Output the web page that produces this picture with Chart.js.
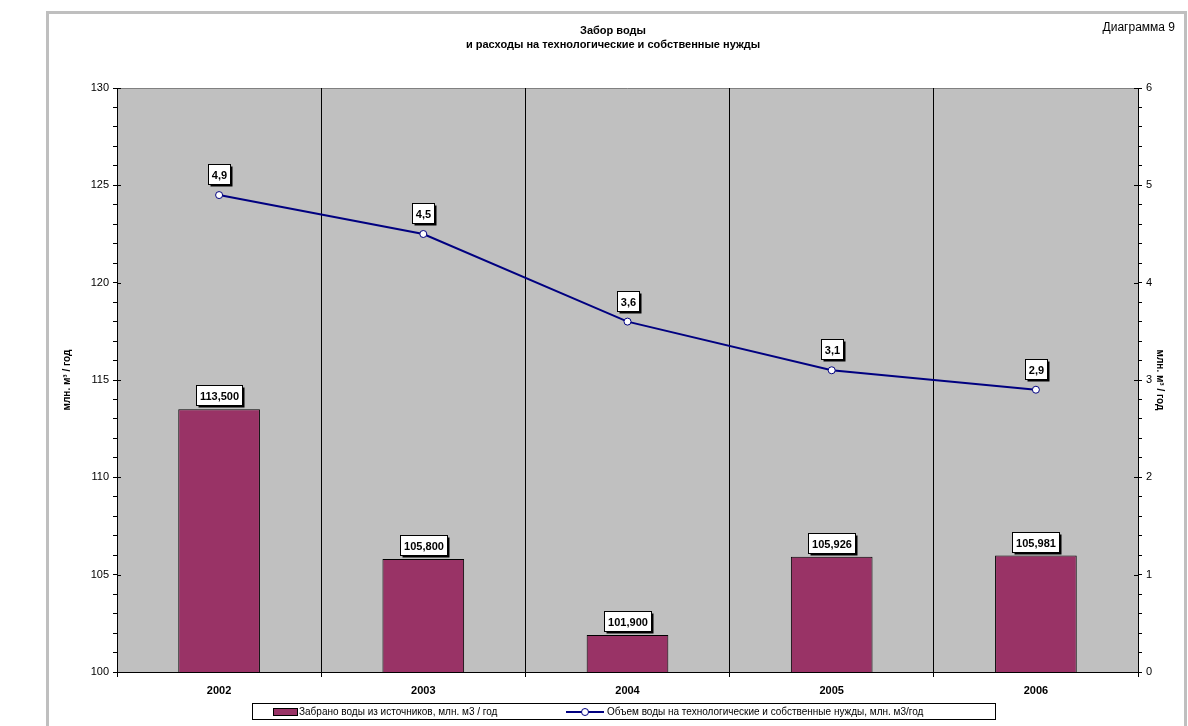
<!DOCTYPE html>
<html>
<head>
<meta charset="utf-8">
<script src="https://cdn.jsdelivr.net/npm/chart.js@4/dist/chart.umd.min.js"></script>
<style>
  html, body { margin: 0; padding: 0; background: #fff; }
  #wrap { width: 1188px; height: 726px; position: relative; }
</style>
</head>
<body>
<div id="wrap"><canvas id="myChart" width="1188" height="726"></canvas></div>
<script>
// data
var years = ['2002', '2003', '2004', '2005', '2006']
var taken = [113.5, 105.8, 101.9, 105.926, 105.981]
var takenLabels = ['113,500', '105,800', '101,900', '105,926', '105,981']
var ownNeeds = [4.9, 4.5, 3.6, 3.1, 2.9]
var ownNeedsLabels = ['4,9', '4,5', '3,6', '3,1', '2,9']

var titleLines = ['Забор воды', 'и расходы на технологические и собственные нужды']
var cornerText = 'Диаграмма 9'
var axisTitle = 'млн. м³ / год'
var legendBar = 'Забрано воды из источников, млн. м3 / год'
var legendLine = 'Объем воды на технологические и собственные нужды, млн. м3/год'

var FONT = '"Liberation Sans", Arial, sans-serif'

// frame, plot background, titles
var backdrop = {
  id: 'backdrop',
  beforeDraw: function(chart) {
    var ctx = chart.ctx, a = chart.chartArea
    ctx.save()
    ctx.fillStyle = '#fff'
    ctx.fillRect(0, 0, chart.width, chart.height)
    // outer frame
    ctx.strokeStyle = '#bfbfbf'
    ctx.lineWidth = 3
    ctx.beginPath()
    ctx.moveTo(47.5, 726)
    ctx.lineTo(47.5, 12.5)
    ctx.lineTo(1185.5, 12.5)
    ctx.lineTo(1185.5, 726)
    ctx.stroke()
    // plot area
    ctx.fillStyle = '#c0c0c0'
    ctx.fillRect(a.left, a.top, a.right - a.left, a.bottom - a.top)
    ctx.strokeStyle = '#808080'
    ctx.lineWidth = 1
    ctx.beginPath()
    ctx.moveTo(a.left, a.top + 0.5)
    ctx.lineTo(a.right, a.top + 0.5)
    ctx.stroke()
    // titles
    ctx.fillStyle = '#000'
    ctx.textAlign = 'center'
    ctx.textBaseline = 'middle'
    ctx.font = 'bold 11px ' + FONT
    ctx.fillText(titleLines[0], 613, 31)
    ctx.fillText(titleLines[1], 613, 45)
    ctx.textAlign = 'right'
    ctx.font = '12px ' + FONT
    ctx.fillText(cornerText, 1175, 28)
    ctx.restore()
  }
}

function labelBox(ctx, text, cx, bottom) {
  ctx.font = 'bold 11px ' + FONT
  var w = Math.round(ctx.measureText(text).width) + 7
  var h = 20
  var x = Math.round(cx - w / 2) + 0.5
  var y = Math.round(bottom - h) + 0.5
  ctx.fillStyle = '#000'
  ctx.fillRect(x + 2, y + 2, w, h)
  ctx.fillStyle = '#fff'
  ctx.fillRect(x, y, w, h)
  ctx.strokeStyle = '#000'
  ctx.lineWidth = 1
  ctx.strokeRect(x, y, w, h)
  ctx.fillStyle = '#000'
  ctx.textAlign = 'center'
  ctx.textBaseline = 'middle'
  ctx.fillText(text, x + w / 2, y + h / 2 + 1)
}

// value boxes, major ticks across the axes, legend
var extras = {
  id: 'extras',
  afterDatasetsDraw: function(chart) {
    var ctx = chart.ctx
    ctx.save()
    chart.getDatasetMeta(0).data.forEach(function(bar, i) {
      labelBox(ctx, takenLabels[i], bar.x, bar.y - 4)
    })
    chart.getDatasetMeta(1).data.forEach(function(pt, i) {
      labelBox(ctx, ownNeedsLabels[i], pt.x, pt.y - 11)
    })
    ctx.restore()
  },
  afterDraw: function(chart) {
    var ctx = chart.ctx, a = chart.chartArea
    ctx.save()
    ctx.strokeStyle = '#000'
    ctx.lineWidth = 1
    ctx.beginPath()
    chart.scales.y.ticks.forEach(function(t) {
      if (t.value % 5 === 0) {
        var py = Math.round(chart.scales.y.getPixelForValue(t.value)) + 0.5
        ctx.moveTo(a.left, py); ctx.lineTo(a.left + 4, py)
      }
    })
    chart.scales.y1.ticks.forEach(function(t) {
      if (Math.abs(t.value - Math.round(t.value)) < 0.001) {
        var py = Math.round(chart.scales.y1.getPixelForValue(t.value)) + 0.5
        ctx.moveTo(a.right - 4, py); ctx.lineTo(a.right, py)
      }
    })
    ctx.stroke()

    ctx.fillStyle = '#fff'
    ctx.fillRect(252.5, 703.5, 743, 16)
    ctx.strokeRect(252.5, 703.5, 743, 16)
    // bar item
    ctx.fillStyle = '#993366'
    ctx.fillRect(273.5, 708.5, 24, 7)
    ctx.strokeRect(273.5, 708.5, 24, 7)
    ctx.fillStyle = '#000'
    ctx.font = '10px ' + FONT
    ctx.textAlign = 'left'
    ctx.textBaseline = 'middle'
    ctx.fillText(legendBar, 299, 712)
    // line item
    ctx.strokeStyle = '#000080'
    ctx.lineWidth = 2
    ctx.beginPath()
    ctx.moveTo(566, 712)
    ctx.lineTo(604, 712)
    ctx.stroke()
    ctx.fillStyle = '#fff'
    ctx.lineWidth = 1
    ctx.beginPath()
    ctx.arc(585, 712, 3.5, 0, Math.PI * 2)
    ctx.fill()
    ctx.stroke()
    ctx.fillStyle = '#000'
    ctx.fillText(legendLine, 607, 712)
    ctx.restore()
  }
}

var mychart = document.getElementById('myChart').getContext('2d')

var chart = new Chart(mychart, {
  type: 'bar',
  data: {
    labels: years,
    datasets: [{
      type: 'bar',
      label: legendBar,
      data: taken,
      backgroundColor: '#993366',
      borderColor: '#000',
      borderWidth: 1,
      barPercentage: 0.4,
      categoryPercentage: 1,
      yAxisID: 'y',
      order: 2
    },
    {
      type: 'line',
      label: legendLine,
      data: ownNeeds,
      borderColor: '#000080',
      borderWidth: 2,
      pointRadius: 3.5,
      pointBackgroundColor: '#fff',
      pointBorderColor: '#000080',
      pointBorderWidth: 1,
      tension: 0,
      yAxisID: 'y1',
      order: 1
    }]
  },
  options: {
    responsive: false,
    animation: false,
    layout: { padding: { left: 0, right: 0, top: 88, bottom: 24 } },
    plugins: {
      legend: { display: false },
      title: { display: false },
      tooltip: { enabled: false }
    },
    scales: {
      x: {
        offset: true,
        grid: { offset: true, color: '#000', lineWidth: 1, tickLength: 5, drawOnChartArea: true },
        border: { color: '#000', width: 1 },
        ticks: { color: '#000', font: { family: FONT, size: 11, weight: 'bold' }, padding: 7, maxRotation: 0 },
        afterFit: function(s) { s.height = 30 }
      },
      y: {
        position: 'left',
        min: 100,
        max: 130,
        ticks: {
          stepSize: 1,
          autoSkip: false,
          color: '#000',
          font: { family: FONT, size: 11 },
          padding: 4,
          callback: function(v) { return v % 5 === 0 ? v : '' }
        },
        grid: { drawOnChartArea: false, color: '#000', tickLength: 4 },
        border: { color: '#000', width: 1 },
        title: { display: true, text: axisTitle, color: '#000', font: { family: FONT, size: 10, weight: 'bold' }, padding: { top: 61, bottom: 0 } },
        afterFit: function(s) { s.width = 117 }
      },
      y1: {
        position: 'right',
        min: 0,
        max: 6,
        ticks: {
          stepSize: 0.2,
          autoSkip: false,
          color: '#000',
          font: { family: FONT, size: 11 },
          padding: 4,
          callback: function(v) { return Math.abs(v - Math.round(v)) < 0.001 ? Math.round(v) : '' }
        },
        grid: { drawOnChartArea: false, color: '#000', tickLength: 4 },
        border: { color: '#000', width: 1 },
        title: { display: true, text: axisTitle, color: '#000', font: { family: FONT, size: 10, weight: 'bold' }, padding: { top: 22, bottom: 0 } },
        afterFit: function(s) { s.width = 50 }
      }
    }
  },
  plugins: [backdrop, extras]
})
</script>
</body>
</html>
